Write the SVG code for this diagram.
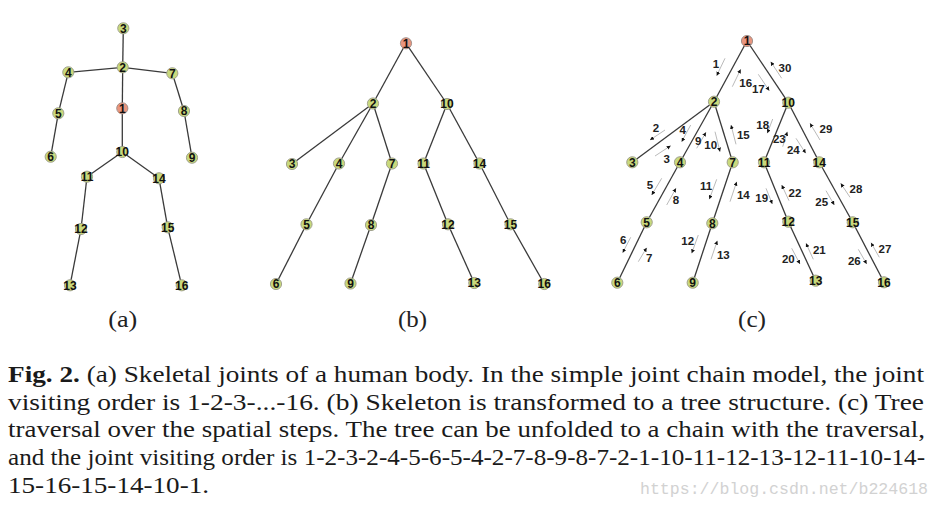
<svg xmlns="http://www.w3.org/2000/svg" width="940" height="508" viewBox="0 0 940 508">
<style>
.e{stroke:#3a3a3a;stroke-width:1.3;fill:none}
.n{fill:#c9d97c;stroke:#9a9a8a;stroke-width:0.9}
.r{fill:#e9957e;stroke:#9a8a85;stroke-width:0.9}
.t{font-family:'Liberation Sans','Arimo',Arial,sans-serif;font-weight:bold;font-size:12px;fill:#111;text-anchor:middle}
.a{stroke:#a8a8a8;stroke-width:0.8;fill:none;marker-end:url(#ah)}
.al{font-family:'Liberation Sans','Arimo',Arial,sans-serif;font-weight:bold;font-size:11.5px;fill:#222;text-anchor:middle}
.pl{font-family:'Liberation Serif','DejaVu Serif','Times New Roman',serif;font-size:23px;fill:#222;text-anchor:middle}
.cap{font-family:'Liberation Serif','DejaVu Serif','Times New Roman',serif;font-size:23px;fill:#1a1a1a}
.wm{font-family:'Liberation Mono','DejaVu Sans Mono',monospace;font-size:16.5px;fill:#d2d2d2}
</style>
<defs>
<marker id="ah" viewBox="0 0 6 6" refX="6" refY="3" markerWidth="4" markerHeight="4" markerUnits="userSpaceOnUse" orient="auto">
<path d="M0,0 L6,3 L0,6 z" fill="#111"/>
</marker>
</defs>
<rect width="940" height="508" fill="#fff"/>

<!-- Panel (a) -->
<g id="connectors-a">
<line class="e" x1="123.3" y1="28.3" x2="122.7" y2="67.3"/>
<line class="e" x1="122.7" y1="67.3" x2="68.3" y2="72.3"/>
<line class="e" x1="122.7" y1="67.3" x2="172.3" y2="73.3"/>
<line class="e" x1="122.7" y1="67.3" x2="122.3" y2="108.3"/>
<line class="e" x1="68.3" y1="72.3" x2="58.3" y2="113.3"/>
<line class="e" x1="58.3" y1="113.3" x2="50.7" y2="156.7"/>
<line class="e" x1="172.3" y1="73.3" x2="184" y2="111"/>
<line class="e" x1="184" y1="111" x2="192" y2="157.7"/>
<line class="e" x1="122.3" y1="108.3" x2="122.3" y2="152"/>
<line class="e" x1="122.3" y1="152" x2="87" y2="176.7"/>
<line class="e" x1="122.3" y1="152" x2="159" y2="178.3"/>
<line class="e" x1="87" y1="176.7" x2="81" y2="229"/>
<line class="e" x1="81" y1="229" x2="70" y2="285.3"/>
<line class="e" x1="159" y1="178.3" x2="167.7" y2="227.3"/>
<line class="e" x1="167.7" y1="227.3" x2="181.7" y2="285.3"/>
</g>
<g id="a-n1"><circle class="r" cx="122.3" cy="108.3" r="5.6"/><text class="t" x="122.3" y="112.5">1</text></g>
<g id="a-n2"><circle class="n" cx="122.7" cy="67.3" r="5.6"/><text class="t" x="122.7" y="71.5">2</text></g>
<g id="a-n3"><circle class="n" cx="123.3" cy="28.3" r="5.6"/><text class="t" x="123.3" y="32.5">3</text></g>
<g id="a-n4"><circle class="n" cx="68.3" cy="72.3" r="5.6"/><text class="t" x="68.3" y="76.5">4</text></g>
<g id="a-n5"><circle class="n" cx="58.3" cy="113.3" r="5.6"/><text class="t" x="58.3" y="117.5">5</text></g>
<g id="a-n6"><circle class="n" cx="50.7" cy="156.7" r="5.6"/><text class="t" x="50.7" y="160.9">6</text></g>
<g id="a-n7"><circle class="n" cx="172.3" cy="73.3" r="5.6"/><text class="t" x="172.3" y="77.5">7</text></g>
<g id="a-n8"><circle class="n" cx="184" cy="111" r="5.6"/><text class="t" x="184" y="115.2">8</text></g>
<g id="a-n9"><circle class="n" cx="192" cy="157.7" r="5.6"/><text class="t" x="192" y="161.9">9</text></g>
<g id="a-n10"><circle class="n" cx="122.3" cy="152" r="5.6"/><text class="t" x="122.3" y="156.2">10</text></g>
<g id="a-n11"><circle class="n" cx="87" cy="176.7" r="5.6"/><text class="t" x="87" y="180.9">11</text></g>
<g id="a-n12"><circle class="n" cx="81" cy="229" r="5.6"/><text class="t" x="81" y="233.2">12</text></g>
<g id="a-n13"><circle class="n" cx="70" cy="285.3" r="5.6"/><text class="t" x="70" y="289.5">13</text></g>
<g id="a-n14"><circle class="n" cx="159" cy="178.3" r="5.6"/><text class="t" x="159" y="182.5">14</text></g>
<g id="a-n15"><circle class="n" cx="167.7" cy="227.3" r="5.6"/><text class="t" x="167.7" y="231.5">15</text></g>
<g id="a-n16"><circle class="n" cx="181.7" cy="285.3" r="5.6"/><text class="t" x="181.7" y="289.5">16</text></g>

<!-- Panel (b) -->
<g id="connectors-b">
<line class="e" x1="406" y1="43.3" x2="373" y2="103.5"/>
<line class="e" x1="406" y1="43.3" x2="447" y2="104"/>
<line class="e" x1="373" y1="103.5" x2="292" y2="164"/>
<line class="e" x1="373" y1="103.5" x2="339" y2="163.5"/>
<line class="e" x1="373" y1="103.5" x2="392" y2="163.5"/>
<line class="e" x1="339" y1="163.5" x2="306.5" y2="224.3"/>
<line class="e" x1="306.5" y1="224.3" x2="276" y2="284"/>
<line class="e" x1="392" y1="163.5" x2="371" y2="225"/>
<line class="e" x1="371" y1="225" x2="350.5" y2="283.5"/>
<line class="e" x1="447" y1="104" x2="423.5" y2="163.5"/>
<line class="e" x1="447" y1="104" x2="479.5" y2="163.5"/>
<line class="e" x1="423.5" y1="163.5" x2="448" y2="224.3"/>
<line class="e" x1="448" y1="224.3" x2="474.3" y2="283"/>
<line class="e" x1="479.5" y1="163.5" x2="510.5" y2="224.3"/>
<line class="e" x1="510.5" y1="224.3" x2="544.3" y2="284"/>
</g>
<g id="b-n1"><circle class="r" cx="406" cy="43.3" r="5.6"/><text class="t" x="406" y="47.5">1</text></g>
<g id="b-n2"><circle class="n" cx="373" cy="103.5" r="5.6"/><text class="t" x="373" y="107.7">2</text></g>
<g id="b-n3"><circle class="n" cx="292" cy="164" r="5.6"/><text class="t" x="292" y="168.2">3</text></g>
<g id="b-n4"><circle class="n" cx="339" cy="163.5" r="5.6"/><text class="t" x="339" y="167.7">4</text></g>
<g id="b-n5"><circle class="n" cx="306.5" cy="224.3" r="5.6"/><text class="t" x="306.5" y="228.5">5</text></g>
<g id="b-n6"><circle class="n" cx="276" cy="284" r="5.6"/><text class="t" x="276" y="288.2">6</text></g>
<g id="b-n7"><circle class="n" cx="392" cy="163.5" r="5.6"/><text class="t" x="392" y="167.7">7</text></g>
<g id="b-n8"><circle class="n" cx="371" cy="225" r="5.6"/><text class="t" x="371" y="229.2">8</text></g>
<g id="b-n9"><circle class="n" cx="350.5" cy="283.5" r="5.6"/><text class="t" x="350.5" y="287.7">9</text></g>
<g id="b-n10"><circle class="n" cx="447" cy="104" r="5.6"/><text class="t" x="447" y="108.2">10</text></g>
<g id="b-n11"><circle class="n" cx="423.5" cy="163.5" r="5.6"/><text class="t" x="423.5" y="167.7">11</text></g>
<g id="b-n12"><circle class="n" cx="448" cy="224.3" r="5.6"/><text class="t" x="448" y="228.5">12</text></g>
<g id="b-n13"><circle class="n" cx="474.3" cy="283" r="5.6"/><text class="t" x="474.3" y="287.2">13</text></g>
<g id="b-n14"><circle class="n" cx="479.5" cy="163.5" r="5.6"/><text class="t" x="479.5" y="167.7">14</text></g>
<g id="b-n15"><circle class="n" cx="510.5" cy="224.3" r="5.6"/><text class="t" x="510.5" y="228.5">15</text></g>
<g id="b-n16"><circle class="n" cx="544.3" cy="284" r="5.6"/><text class="t" x="544.3" y="288.2">16</text></g>

<!-- Panel (c) -->
<g id="connectors-c">
<line class="e" x1="747" y1="41" x2="714" y2="101.7"/>
<line class="e" x1="747" y1="41" x2="788.3" y2="102.7"/>
<line class="e" x1="714" y1="101.7" x2="632.3" y2="162.3"/>
<line class="e" x1="714" y1="101.7" x2="680" y2="162.3"/>
<line class="e" x1="714" y1="101.7" x2="732.7" y2="162.3"/>
<line class="e" x1="680" y1="162.3" x2="646.7" y2="222.3"/>
<line class="e" x1="646.7" y1="222.3" x2="617.3" y2="282.7"/>
<line class="e" x1="732.7" y1="162.3" x2="712.3" y2="223.3"/>
<line class="e" x1="712.3" y1="223.3" x2="692.7" y2="282.7"/>
<line class="e" x1="788.3" y1="102.7" x2="764" y2="162.3"/>
<line class="e" x1="788.3" y1="102.7" x2="819.3" y2="162.3"/>
<line class="e" x1="764" y1="162.3" x2="788.3" y2="221.7"/>
<line class="e" x1="788.3" y1="221.7" x2="815.7" y2="280.7"/>
<line class="e" x1="819.3" y1="162.3" x2="852.7" y2="222.3"/>
<line class="e" x1="852.7" y1="222.3" x2="884" y2="282.3"/>
</g>
<g id="traversal-arrows">
<line class="a" x1="725" y1="58.3" x2="716.7" y2="75.7"/>
<line class="a" x1="732.3" y1="86.7" x2="740.7" y2="69.3"/>
<line class="a" x1="758.3" y1="74.3" x2="769.3" y2="90.7"/>
<line class="a" x1="781.7" y1="78.3" x2="770.7" y2="61.7"/>
<line class="a" x1="665" y1="130" x2="650" y2="140"/>
<line class="a" x1="655" y1="156" x2="670.7" y2="145.7"/>
<line class="a" x1="690.7" y1="125" x2="681.7" y2="141.7"/>
<line class="a" x1="696.7" y1="148.3" x2="706" y2="132.3"/>
<line class="a" x1="715" y1="131.7" x2="720" y2="151.7"/>
<line class="a" x1="736" y1="144.3" x2="731" y2="125"/>
<line class="a" x1="772.7" y1="119" x2="767.3" y2="133.3"/>
<line class="a" x1="782.7" y1="146.7" x2="787.3" y2="131.7"/>
<line class="a" x1="796" y1="138.3" x2="805.7" y2="153.3"/>
<line class="a" x1="820" y1="140" x2="810" y2="123.3"/>
<line class="a" x1="661.7" y1="178.3" x2="651.7" y2="195"/>
<line class="a" x1="666.7" y1="205" x2="676" y2="188.3"/>
<line class="a" x1="630.7" y1="237.3" x2="622.7" y2="252.7"/>
<line class="a" x1="638.3" y1="261.7" x2="646.7" y2="247.7"/>
<line class="a" x1="716.7" y1="179.3" x2="709.3" y2="199.3"/>
<line class="a" x1="730" y1="201.7" x2="736.7" y2="181.7"/>
<line class="a" x1="698.3" y1="235" x2="691.7" y2="253.3"/>
<line class="a" x1="711" y1="259.3" x2="717.3" y2="240.7"/>
<line class="a" x1="766" y1="188.3" x2="772.3" y2="204"/>
<line class="a" x1="789" y1="200.7" x2="781.7" y2="185"/>
<line class="a" x1="826" y1="190.7" x2="834.3" y2="205"/>
<line class="a" x1="850" y1="197.3" x2="840.7" y2="183.3"/>
<line class="a" x1="791.7" y1="248.3" x2="800" y2="264"/>
<line class="a" x1="813.3" y1="259.3" x2="806" y2="243.3"/>
<line class="a" x1="858.3" y1="249.3" x2="866.7" y2="264"/>
<line class="a" x1="879.3" y1="257.3" x2="871" y2="242.7"/>
</g>
<g id="traversal-labels">
<text class="al" x="716" y="67.5">1</text>
<text class="al" x="745.7" y="86.9">16</text>
<text class="al" x="758.3" y="92.5">17</text>
<text class="al" x="785" y="71.5">30</text>
<text class="al" x="656" y="131.9">2</text>
<text class="al" x="666.7" y="162.5">3</text>
<text class="al" x="682.7" y="134.2">4</text>
<text class="al" x="698.3" y="144.9">9</text>
<text class="al" x="710.7" y="148.5">10</text>
<text class="al" x="743.3" y="138.5">15</text>
<text class="al" x="762.7" y="128.5">18</text>
<text class="al" x="779.3" y="143.2">23</text>
<text class="al" x="793.3" y="154.2">24</text>
<text class="al" x="826" y="133.2">29</text>
<text class="al" x="650" y="189.2">5</text>
<text class="al" x="676" y="204.2">8</text>
<text class="al" x="623.3" y="244.2">6</text>
<text class="al" x="649.3" y="261.9">7</text>
<text class="al" x="706" y="189.9">11</text>
<text class="al" x="743.3" y="199.2">14</text>
<text class="al" x="687.7" y="245.2">12</text>
<text class="al" x="723.3" y="258.5">13</text>
<text class="al" x="761.7" y="201.9">19</text>
<text class="al" x="795" y="196.5">22</text>
<text class="al" x="821.7" y="205.9">25</text>
<text class="al" x="856" y="192.5">28</text>
<text class="al" x="788.3" y="263.2">20</text>
<text class="al" x="819.3" y="253.5">21</text>
<text class="al" x="854.3" y="264.9">26</text>
<text class="al" x="885" y="252.5">27</text>
</g>
<g id="c-n1"><circle class="r" cx="747" cy="41" r="5.6"/><text class="t" x="747" y="45.2">1</text></g>
<g id="c-n2"><circle class="n" cx="714" cy="101.7" r="5.6"/><text class="t" x="714" y="105.9">2</text></g>
<g id="c-n3"><circle class="n" cx="632.3" cy="162.3" r="5.6"/><text class="t" x="632.3" y="166.5">3</text></g>
<g id="c-n4"><circle class="n" cx="680" cy="162.3" r="5.6"/><text class="t" x="680" y="166.5">4</text></g>
<g id="c-n5"><circle class="n" cx="646.7" cy="222.3" r="5.6"/><text class="t" x="646.7" y="226.5">5</text></g>
<g id="c-n6"><circle class="n" cx="617.3" cy="282.7" r="5.6"/><text class="t" x="617.3" y="286.9">6</text></g>
<g id="c-n7"><circle class="n" cx="732.7" cy="162.3" r="5.6"/><text class="t" x="732.7" y="166.5">7</text></g>
<g id="c-n8"><circle class="n" cx="712.3" cy="223.3" r="5.6"/><text class="t" x="712.3" y="227.5">8</text></g>
<g id="c-n9"><circle class="n" cx="692.7" cy="282.7" r="5.6"/><text class="t" x="692.7" y="286.9">9</text></g>
<g id="c-n10"><circle class="n" cx="788.3" cy="102.7" r="5.6"/><text class="t" x="788.3" y="106.9">10</text></g>
<g id="c-n11"><circle class="n" cx="764" cy="162.3" r="5.6"/><text class="t" x="764" y="166.5">11</text></g>
<g id="c-n12"><circle class="n" cx="788.3" cy="221.7" r="5.6"/><text class="t" x="788.3" y="225.9">12</text></g>
<g id="c-n13"><circle class="n" cx="815.7" cy="280.7" r="5.6"/><text class="t" x="815.7" y="284.9">13</text></g>
<g id="c-n14"><circle class="n" cx="819.3" cy="162.3" r="5.6"/><text class="t" x="819.3" y="166.5">14</text></g>
<g id="c-n15"><circle class="n" cx="852.7" cy="222.3" r="5.6"/><text class="t" x="852.7" y="226.5">15</text></g>
<g id="c-n16"><circle class="n" cx="884" cy="282.3" r="5.6"/><text class="t" x="884" y="286.5">16</text></g>

<!-- Panel labels -->
<text class="pl" x="122.8" y="326.5" textLength="29" lengthAdjust="spacingAndGlyphs">(a)</text>
<text class="pl" x="412.5" y="326.5" textLength="29" lengthAdjust="spacingAndGlyphs">(b)</text>
<text class="pl" x="752" y="326.5" textLength="28" lengthAdjust="spacingAndGlyphs">(c)</text>

<!-- Caption -->
<g id="caption">
<text class="cap" x="8" y="382" textLength="916" lengthAdjust="spacingAndGlyphs"><tspan font-weight="bold">Fig. 2.</tspan> (a) Skeletal joints of a human body. In the simple joint chain model, the joint</text>
<text class="cap" x="8" y="409.5" textLength="916" lengthAdjust="spacingAndGlyphs">visiting order is 1-2-3-...-16. (b) Skeleton is transformed to a tree structure. (c) Tree</text>
<text class="cap" x="8" y="437" textLength="917" lengthAdjust="spacingAndGlyphs">traversal over the spatial steps. The tree can be unfolded to a chain with the traversal,</text>
<text class="cap" x="8" y="465" textLength="917" lengthAdjust="spacingAndGlyphs">and the joint visiting order is 1-2-3-2-4-5-6-5-4-2-7-8-9-8-7-2-1-10-11-12-13-12-11-10-14-</text>
<text class="cap" x="8" y="493" textLength="201" lengthAdjust="spacingAndGlyphs">15-16-15-14-10-1.</text>
</g>
<text class="wm" x="640" y="494" textLength="288" lengthAdjust="spacingAndGlyphs">https://blog.csdn.net/b224618</text>
</svg>
